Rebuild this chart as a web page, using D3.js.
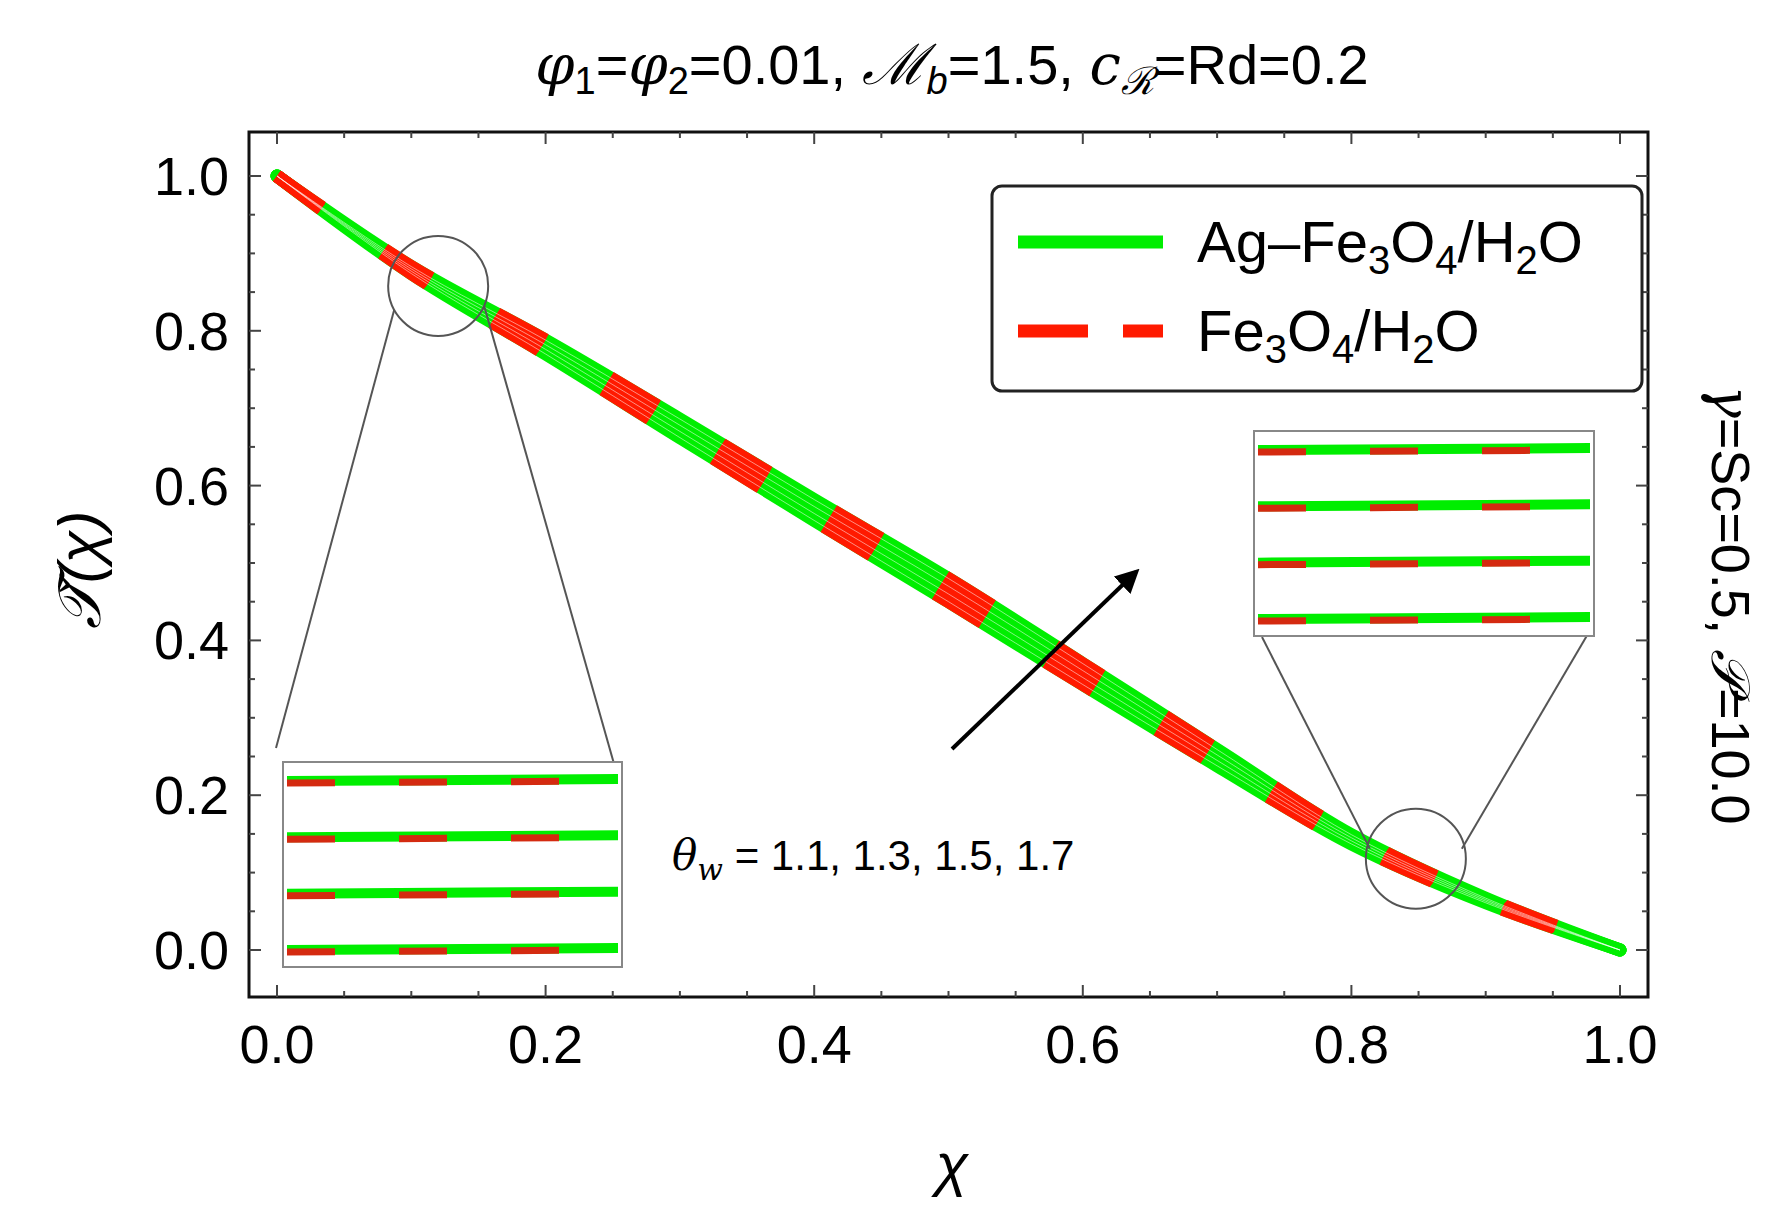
<!DOCTYPE html>
<html><head><meta charset="utf-8">
<script src="https://cdn.jsdelivr.net/npm/d3@7"></script>
<style>body{margin:0;background:#fff}text{font-family:"Liberation Sans",Arial,sans-serif}</style>
</head><body><svg id="c" width="1779" height="1209"></svg>
<script>
const xs = [0, 0.1, 0.2, 0.3, 0.4, 0.5, 0.6, 0.7, 0.8, 0.9, 1.0];
const theta11 = [1, 0.874, 0.770, 0.662, 0.555, 0.450, 0.343, 0.238, 0.137, 0.061, 0];
const theta13 = [1, 0.877, 0.776, 0.670, 0.564, 0.460, 0.352, 0.245, 0.141, 0.063, 0];
const theta15 = [1, 0.880, 0.782, 0.678, 0.573, 0.470, 0.361, 0.252, 0.145, 0.065, 0];
const theta17 = [1, 0.883, 0.788, 0.686, 0.582, 0.480, 0.370, 0.259, 0.149, 0.067, 0];
const series = [theta11, theta13, theta15, theta17];
const ticks = [0, 0.2, 0.4, 0.6, 0.8, 1.0];

const svg = d3.select("#c");
const x = d3.scaleLinear().domain([0, 1]).range([277, 1620]);
const y = d3.scaleLinear().domain([0, 1]).range([950, 176]);
const L = 249, T = 132, R = 1648, B = 997;
const GREEN = "#00ee00", RED = "#ff1a00";

// frame
svg.append("rect").attr("x", L).attr("y", T).attr("width", R - L).attr("height", B - T)
  .attr("fill", "none").attr("stroke", "#111").attr("stroke-width", 3);

// ticks
const minor = d3.range(0, 1.0001, 0.05);
minor.forEach(v => {
  const major = Math.abs(v * 5 - Math.round(v * 5)) < 1e-6;
  const len = major ? 12 : 6;
  [[B, -1], [T, 1]].forEach(([yy, s]) => svg.append("line").attr("x1", x(v)).attr("x2", x(v))
    .attr("y1", yy).attr("y2", yy + s * len).attr("stroke", "#444").attr("stroke-width", 2));
  [[L, 1], [R, -1]].forEach(([xx, s]) => svg.append("line").attr("y1", y(v)).attr("y2", y(v))
    .attr("x1", xx).attr("x2", xx + s * len).attr("stroke", "#444").attr("stroke-width", 2));
});
ticks.forEach(v => {
  svg.append("text").attr("x", x(v)).attr("y", B + 66).attr("text-anchor", "middle")
    .attr("font-size", 54).text(v.toFixed(1));
  svg.append("text").attr("x", L - 20).attr("y", y(v) + 19).attr("text-anchor", "end")
    .attr("font-size", 54).text(v.toFixed(1));
});

// curves
const line = d3.line().x((d, i) => x(xs[i])).y(d => y(d)).curve(d3.curveCatmullRom);
series.forEach(s => svg.append("path").attr("d", line(s)).attr("fill", "none")
  .attr("stroke", GREEN).attr("stroke-width", 13).attr("stroke-linecap", "round"));
series.forEach(s => svg.append("path").attr("d", line(s)).attr("fill", "none")
  .attr("stroke", RED).attr("stroke-width", 13).attr("stroke-dasharray", "55,75"));
series.forEach(s => svg.append("path").attr("d", line(s)).attr("fill", "none")
  .attr("stroke", "#fff").attr("stroke-opacity", 0.5).attr("stroke-width", 1));

// zoom insets
function inset(x0, y0, w, h) {
  const g = svg.append("g");
  g.append("rect").attr("x", x0).attr("y", y0).attr("width", w).attr("height", h)
    .attr("fill", "#fff").attr("stroke", "#888").attr("stroke-width", 2);
  const iy = d3.scaleLinear().domain([0, 3]).range([y0 + h - 18, y0 + 18]);
  const ix = d3.scaleLinear().domain([0, 1]).range([x0 + 4, x0 + w - 4]);
  [0, 1, 2, 3].forEach(k => {
    g.append("line").attr("x1", ix(0)).attr("x2", ix(1)).attr("y1", iy(k) + 1).attr("y2", iy(k) - 1)
      .attr("stroke", GREEN).attr("stroke-width", 10);
    g.append("line").attr("x1", ix(0)).attr("x2", ix(1)).attr("y1", iy(k) + 3).attr("y2", iy(k) + 1)
      .attr("stroke", "#d42a10").attr("stroke-width", 7).attr("stroke-dasharray", "48,64");
  });
}
function ln(a, b, c, d) {
  svg.append("line").attr("x1", a).attr("y1", b).attr("x2", c).attr("y2", d)
    .attr("stroke", "#555").attr("stroke-width", 2);
}
svg.append("circle").attr("cx", x(0.12)).attr("cy", y(0.858)).attr("r", 50).attr("fill", "none").attr("stroke", "#555").attr("stroke-width", 2);
svg.append("circle").attr("cx", x(0.848)).attr("cy", y(0.118)).attr("r", 50).attr("fill", "none").attr("stroke", "#555").attr("stroke-width", 2);
ln(x(0.12) - 44, y(0.858) + 24, 276, 748); ln(x(0.12) + 46, y(0.858) + 20, 622, 792);
ln(1262, 637, x(0.848) - 46, y(0.118) - 10); ln(1592, 627, x(0.848) + 46, y(0.118) - 10);
inset(283, 762, 339, 205);
inset(1254, 431, 340, 205);

// arrow
svg.append("defs").append("marker").attr("id", "ah").attr("viewBox", "0 0 10 10").attr("refX", 8).attr("refY", 5)
  .attr("markerWidth", 6).attr("markerHeight", 6).attr("orient", "auto")
  .append("path").attr("d", "M0,0L10,5L0,10z").attr("fill", "#000");
svg.append("line").attr("x1", 952).attr("y1", 749).attr("x2", 1136).attr("y2", 572)
  .attr("stroke", "#000").attr("stroke-width", 4).attr("marker-end", "url(#ah)");
svg.append("text").attr("x", 672).attr("y", 870).attr("font-size", 42)
  .html('<tspan font-style="italic" font-family="DejaVu Serif">θ</tspan><tspan font-size="30" dy="10" font-style="italic" font-family="DejaVu Serif">w</tspan><tspan dy="-10"> = 1.1, 1.3, 1.5, 1.7</tspan>');

// legend
svg.append("rect").attr("x", 992).attr("y", 186).attr("width", 650).attr("height", 205).attr("rx", 10)
  .attr("fill", "#fff").attr("stroke", "#222").attr("stroke-width", 3);
svg.append("line").attr("x1", 1018).attr("x2", 1163).attr("y1", 242).attr("y2", 242).attr("stroke", GREEN).attr("stroke-width", 13);
svg.append("line").attr("x1", 1018).attr("x2", 1163).attr("y1", 331).attr("y2", 331).attr("stroke", RED).attr("stroke-width", 13).attr("stroke-dasharray", "70,35");
const sub = '<tspan font-size="40" dy="12">';
svg.append("text").attr("x", 1197).attr("y", 262).attr("font-size", 58)
  .html(`Ag–Fe${sub}3</tspan><tspan dy="-12">O</tspan>${sub}4</tspan><tspan dy="-12">/H</tspan>${sub}2</tspan><tspan dy="-12">O</tspan>`);
svg.append("text").attr("x", 1197).attr("y", 351).attr("font-size", 58)
  .html(`Fe${sub}3</tspan><tspan dy="-12">O</tspan>${sub}4</tspan><tspan dy="-12">/H</tspan>${sub}2</tspan><tspan dy="-12">O</tspan>`);

// titles
svg.append("text").attr("x", 952).attr("y", 84).attr("text-anchor", "middle").attr("font-size", 56)
  .html('<tspan font-style="italic" font-family="DejaVu Serif">φ</tspan><tspan font-size="38" dy="10">1</tspan><tspan dy="-10">=</tspan><tspan font-style="italic" font-family="DejaVu Serif">φ</tspan><tspan font-size="38" dy="10">2</tspan><tspan dy="-10">=0.01, </tspan><tspan font-style="italic" font-family="DejaVu Serif">ℳ</tspan><tspan font-size="38" dy="10" font-style="italic">b</tspan><tspan dy="-10">=1.5, </tspan><tspan font-style="italic" font-family="DejaVu Serif">c</tspan><tspan font-size="38" dy="10" font-style="italic">ℛ</tspan><tspan dy="-10">=Rd=0.2</tspan>');
svg.append("text").attr("transform", "translate(100,570) rotate(-90)").attr("text-anchor", "middle").attr("font-size", 60)
  .attr("font-family", "DejaVu Serif").attr("font-style", "italic").text("𝒯̌(χ)");
svg.append("text").attr("x", 952).attr("y", 1185).attr("text-anchor", "middle").attr("font-size", 60)
  .attr("font-family", "DejaVu Serif").attr("font-style", "italic").text("χ");
svg.append("text").attr("transform", "translate(1712,605) rotate(90)").attr("text-anchor", "middle").attr("font-size", 54)
  .html('<tspan font-style="italic" font-family="DejaVu Serif">γ</tspan>=Sc=0.5, <tspan font-style="italic" font-family="DejaVu Serif">𝒫</tspan>=10.0');
</script></body></html>
